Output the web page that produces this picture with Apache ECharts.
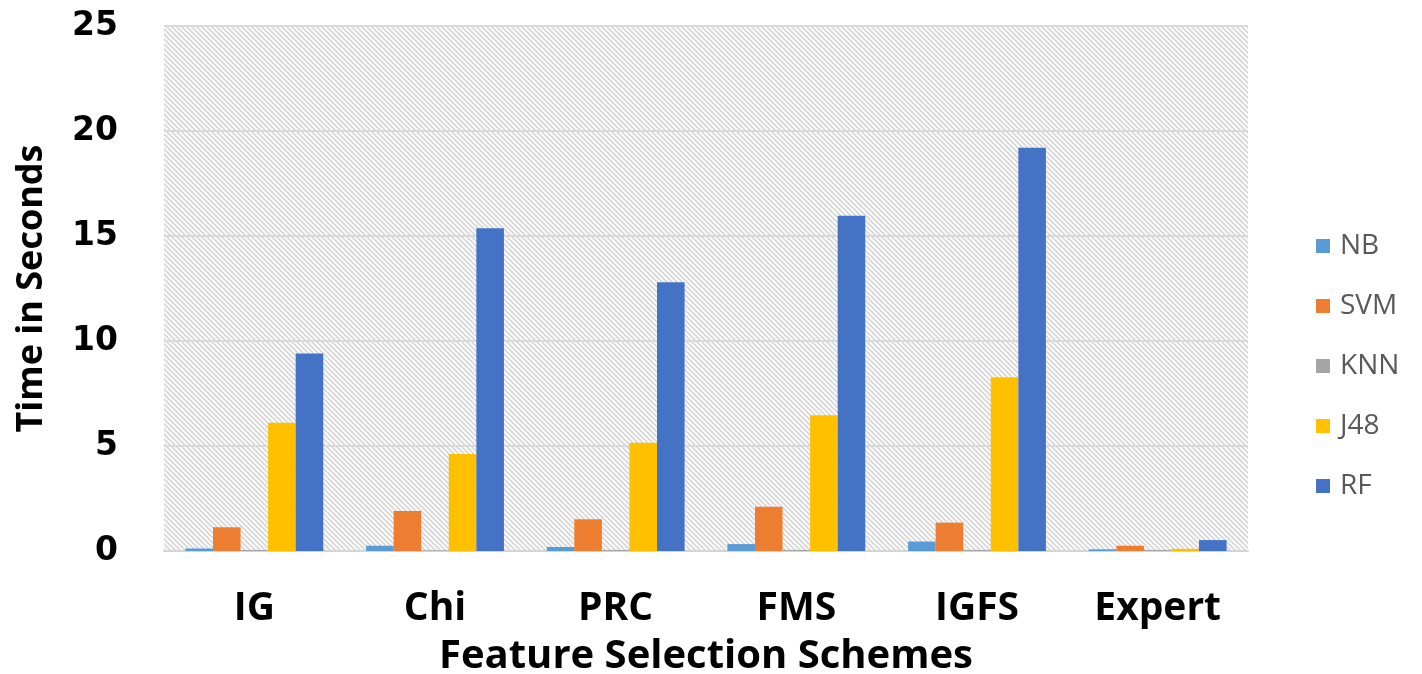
<!DOCTYPE html>
<html>
<head>
<meta charset="utf-8">
<script src="https://cdn.jsdelivr.net/npm/echarts@6/dist/echarts.min.js"></script>
<style>
  html, body { margin: 0; padding: 0; background: #ffffff; }
  #chart { width: 1422px; height: 674px; }
</style>
</head>
<body>
<div id="chart"></div>
<script>
// Feature selection schemes on the category axis
const schemes = ['IG', 'Chi', 'PRC', 'FMS', 'IGFS', 'Expert'];

// Training time (seconds) per classifier
const nb  = [0.12, 0.25, 0.19, 0.33, 0.45, 0.08];
const svm = [1.13, 1.90, 1.51, 2.11, 1.35, 0.25];
const knn = [0.05, 0.03, 0.05, 0.05, 0.05, 0.05];
const j48 = [6.11, 4.62, 5.16, 6.46, 8.27, 0.10];
const rf  = [9.41, 15.37, 12.80, 15.97, 19.20, 0.52];

const yTicks = [0, 5, 10, 15, 20, 25];

// Light diagonal hatch used as the plot-area fill
function hatchPattern() {
  const s = 5;
  const c = document.createElement('canvas');
  c.width = s; c.height = s;
  const g = c.getContext('2d');
  g.fillStyle = '#fafafa';
  g.fillRect(0, 0, s, s);
  g.strokeStyle = '#d2d2d2';
  g.lineWidth = 1.4;
  g.beginPath();
  g.moveTo(-1, -1); g.lineTo(s + 1, s + 1);
  g.moveTo(-1, s - 1); g.lineTo(1, s + 1);
  g.moveTo(s - 1, -1); g.lineTo(s + 1, 1);
  g.stroke();
  return { image: c, repeat: 'repeat' };
}

const chart = echarts.init(document.getElementById('chart'), null, { renderer: 'canvas' });

const seriesDefs = [
  { name: 'NB',  data: nb,  color: '#5B9BD5' },
  { name: 'SVM', data: svm, color: '#ED7D31' },
  { name: 'KNN', data: knn, color: '#A5A5A5' },
  { name: 'J48', data: j48, color: '#FFC000' },
  { name: 'RF',  data: rf,  color: '#4472C4' }
];

chart.setOption({
  animation: false,
  backgroundColor: '#ffffff',
  grid: {
    show: true,
    left: 164, right: 174, top: 26, bottom: 123,
    containLabel: false,
    outerBoundsMode: 'none',
    backgroundColor: hatchPattern(),
    borderWidth: 0
  },
  legend: {
    orient: 'vertical',
    left: 1311, top: 227,
    itemWidth: 14, itemHeight: 14,
    itemGap: 32,
    icon: 'rect',
    textStyle: {
      fontFamily: 'Open Sans', fontSize: 28, color: '#595959', lineHeight: 28,
      padding: [0, 0, 0, 5]
    },
    data: seriesDefs.map(d => d.name)
  },
  xAxis: {
    type: 'category',
    data: schemes,
    name: 'Feature Selection Schemes',
    nameLocation: 'middle',
    nameGap: 86,
    nameTextStyle: { fontFamily: 'Open Sans', fontWeight: 'bold', fontSize: 40, color: '#000' },
    axisLine: { lineStyle: { color: '#d4d4d4', width: 2 } },
    axisTick: { show: false },
    axisLabel: { margin: 38, fontFamily: 'Open Sans', fontWeight: 'bold', fontSize: 39, color: '#000' }
  },
  yAxis: {
    type: 'value',
    min: yTicks[0], max: yTicks[yTicks.length - 1], interval: 5,
    name: 'Time in Seconds',
    nameLocation: 'middle',
    nameGap: 114,
    nameTextStyle: { fontFamily: 'Open Sans', fontWeight: 'bold', fontSize: 36, color: '#000' },
    axisLine: { show: false },
    axisTick: { show: false },
    axisLabel: { margin: 46, fontFamily: 'DejaVu Sans', fontWeight: 'bold', fontSize: 33, color: '#000' },
    splitLine: { lineStyle: { color: '#d9d9d9', width: 2 } }
  },
  series: seriesDefs.map(d => ({
    name: d.name,
    type: 'bar',
    data: d.data,
    barGap: '0%',
    barCategoryGap: '23.7%',
    itemStyle: { color: d.color }
  }))
});
</script>
</body>
</html>
